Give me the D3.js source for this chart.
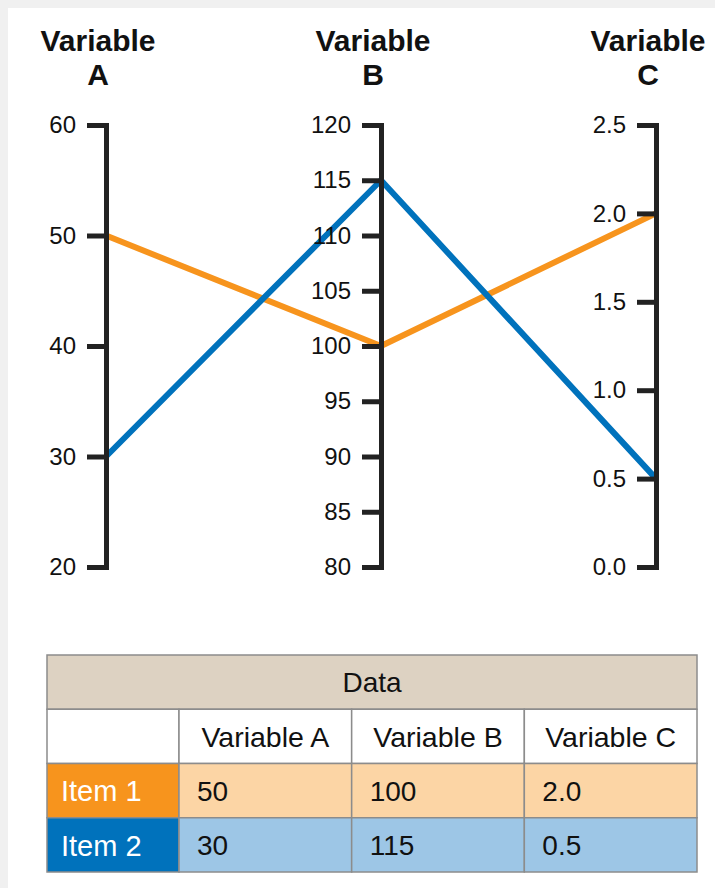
<!DOCTYPE html>
<html>
<head>
<meta charset="utf-8">
<script src="https://cdn.jsdelivr.net/npm/d3@7/dist/d3.min.js"></script>
<style>
  body { margin: 0; background: #f0f0f0; }
  svg { display: block; }
  text { font-family: "Liberation Sans", Arial, Helvetica, sans-serif; fill: #111; }
</style>
</head>
<body>
<svg id="chart" width="715" height="888"></svg>
<script>
// ---- data ----
const variables = ["A", "B", "C"];
const variableNames = ["Variable A", "Variable B", "Variable C"];
const domainA = [20, 60];
const domainB = [80, 120];
const domainC = [0, 2.5];
const ticksA = [20, 30, 40, 50, 60];
const ticksB = [80, 85, 90, 95, 100, 105, 110, 115, 120];
const ticksC = [0, 0.5, 1.0, 1.5, 2.0, 2.5];
const items = ["Item 1", "Item 2"];
const item1Values = [50, 100, 2.0];
const item2Values = [30, 115, 0.5];
const itemColors = ["#f7941d", "#0072bc"];
const itemTints = ["#fcd5a5", "#9dc6e6"];
const tableTitle = "Data";

const svg = d3.select("#chart");
const W = 715, H = 888;

// page panel
svg.append("rect").attr("width", W).attr("height", H).attr("fill", "#f0f0f0");
svg.append("rect").attr("x", 8).attr("y", 8).attr("width", W - 8).attr("height", H - 8).attr("fill", "#ffffff");

// ---- parallel coordinates ----
const x = d3.scalePoint().domain(variables).range([106, 656]);
const domains = [domainA, domainB, domainC];
const tickSets = [ticksA, ticksB, ticksC];
const formats = [d3.format("d"), d3.format("d"), d3.format(".1f")];
const y = {};
variables.forEach((v, i) => {
  y[v] = d3.scaleLinear().domain(domains[i]).range([567, 125]);
});

const series = [item1Values, item2Values];
const line = d3.line();

svg.append("g").selectAll("path")
  .data(series)
  .join("path")
  .attr("d", vals => line(vals.map((val, i) => [x(variables[i]), y[variables[i]](val)])))
  .attr("fill", "none")
  .attr("stroke", (d, i) => itemColors[i])
  .attr("stroke-width", 6)
  .attr("stroke-linejoin", "round");

variables.forEach((v, i) => {
  const g = svg.append("g")
    .attr("transform", `translate(${x(v)},0)`)
    .call(d3.axisLeft(y[v])
      .tickValues(tickSets[i])
      .tickFormat(formats[i])
      .tickSize(19)
      .tickSizeOuter(0)
      .tickPadding(11));
  g.select(".domain")
    .attr("stroke", "#222")
    .attr("stroke-width", 5)
    .attr("stroke-linecap", "square");
  g.selectAll(".tick line").attr("stroke", "#222").attr("stroke-width", 5);
  g.selectAll(".tick text")
    .attr("font-size", 24)
    .attr("font-family", "Liberation Sans, Arial, sans-serif")
    .attr("fill", "#111");

  const title = svg.append("text")
    .attr("x", x(v) - 8)
    .attr("text-anchor", "middle")
    .attr("font-size", 30)
    .attr("font-weight", "bold");
  title.append("tspan").attr("x", x(v) - 8).attr("y", 51).text("Variable");
  title.append("tspan").attr("x", x(v) - 8).attr("y", 85).text(v);
});

// ---- data table ----
const rowKeys = ["title", "header", ...items];
const row = d3.scaleBand().domain(rowKeys).range([655, 872]);
const tableLeft = 47, firstColRight = 179, tableRight = 697;
const col = d3.scaleBand().domain(variables).range([firstColRight, tableRight]);
const border = "#8c8c8c";
const tbl = svg.append("g");

// title row
tbl.append("rect")
  .attr("x", tableLeft).attr("y", row("title"))
  .attr("width", tableRight - tableLeft).attr("height", row.bandwidth())
  .attr("fill", "#ddd2c2").attr("stroke", border).attr("stroke-width", 1.5);
tbl.append("text")
  .attr("x", (tableLeft + tableRight) / 2).attr("y", row("title") + row.bandwidth() / 2)
  .attr("dy", "0.36em").attr("text-anchor", "middle").attr("font-size", 28)
  .text(tableTitle);

// header row
tbl.append("rect")
  .attr("x", tableLeft).attr("y", row("header"))
  .attr("width", firstColRight - tableLeft).attr("height", row.bandwidth())
  .attr("fill", "#fff").attr("stroke", border).attr("stroke-width", 1.5);
tbl.selectAll(".hdr").data(variables).join("g").attr("class", "hdr")
  .each(function (v, i) {
    const g = d3.select(this);
    g.append("rect")
      .attr("x", col(v)).attr("y", row("header"))
      .attr("width", col.bandwidth()).attr("height", row.bandwidth())
      .attr("fill", "#fff").attr("stroke", border).attr("stroke-width", 1.5);
    g.append("text")
      .attr("x", col(v) + col.bandwidth() / 2).attr("y", row("header") + row.bandwidth() / 2)
      .attr("dy", "0.36em").attr("text-anchor", "middle").attr("font-size", 28.5)
      .text(variableNames[i]);
  });

// item rows
items.forEach((item, r) => {
  const y0 = row(item);
  tbl.append("rect")
    .attr("x", tableLeft).attr("y", y0)
    .attr("width", firstColRight - tableLeft).attr("height", row.bandwidth())
    .attr("fill", itemColors[r]).attr("stroke", border).attr("stroke-width", 1.5);
  tbl.append("text")
    .attr("x", tableLeft + 14).attr("y", y0 + row.bandwidth() / 2)
    .attr("dy", "0.37em").attr("font-size", 29)
    .style("fill", "#fff")
    .text(item);
  series[r].forEach((val, i) => {
    const v = variables[i];
    tbl.append("rect")
      .attr("x", col(v)).attr("y", y0)
      .attr("width", col.bandwidth()).attr("height", row.bandwidth())
      .attr("fill", itemTints[r]).attr("stroke", border).attr("stroke-width", 1.5);
    tbl.append("text")
      .attr("x", col(v) + 18).attr("y", y0 + row.bandwidth() / 2)
      .attr("dy", "0.36em").attr("font-size", 28)
      .text(formats[i](val));
  });
});
</script>
</body>
</html>
